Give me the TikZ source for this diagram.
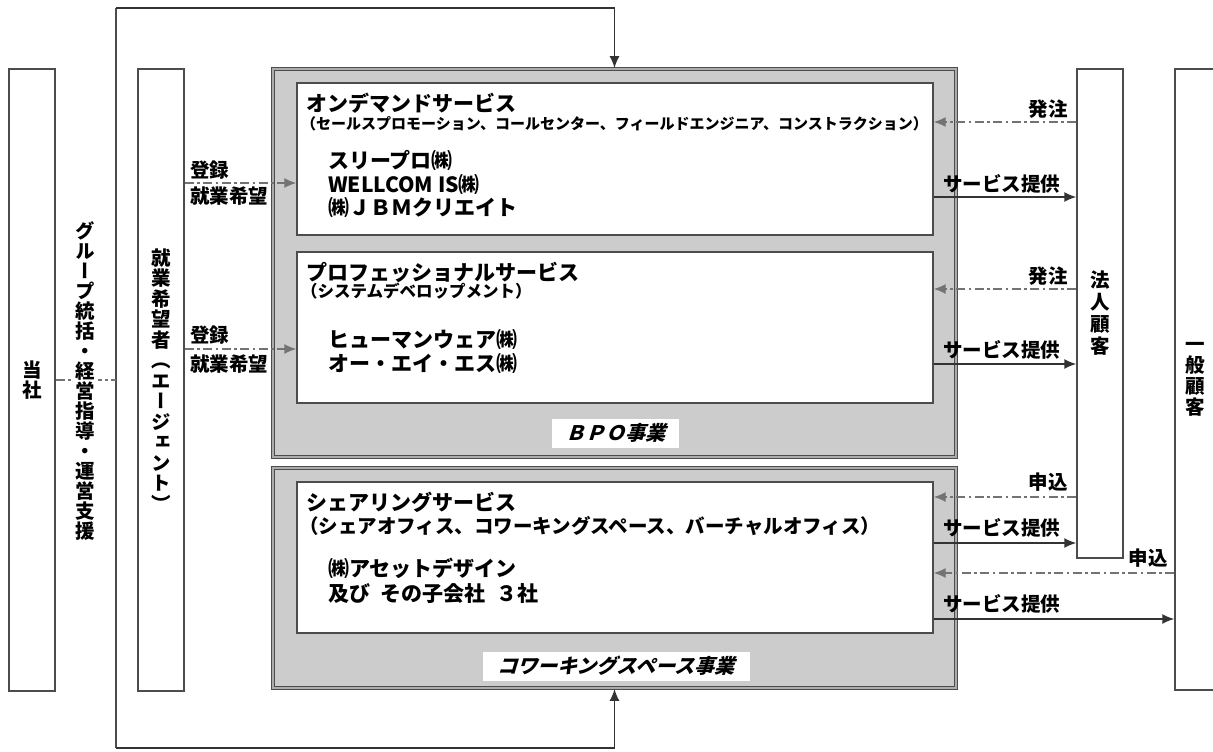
\documentclass[tikz,border=0pt]{standalone}
\usepackage{fontspec}
\setmainfont{Noto Sans CJK JP}
\newfontfamily\tatefont[RawFeature=+vert]{Noto Sans CJK JP}
\newfontfamily\slantfont[FakeSlant=0.3]{Noto Sans CJK JP}
\usetikzlibrary{arrows.meta,positioning}

\begin{document}
\begin{tikzpicture}[x=1pt,y=-1pt]
		\tikzstyle{Side}	= [rectangle, draw=black!70, line width=1.4pt, fill=white, inner sep=0pt, minimum width=46pt, align=center, font=\tatefont\bfseries\fontsize{19.5}{20.5}\selectfont]
		\tikzstyle{Upright}	= [align=center, inner sep=3pt, fill=white, font=\tatefont\bfseries\fontsize{19.5}{20}\selectfont]
		\tikzstyle{Division}	= [rectangle, draw=black!70, line width=1.7pt, double=gray!65, double distance=1.4pt, fill=gray!40, inner sep=0pt, minimum width=683pt]
		\tikzstyle{Service}	= [rectangle, draw=black!70, line width=1.4pt, fill=white, inner sep=0pt, minimum width=636pt]
		\tikzstyle{Tag}		= [fill=white, inner sep=0pt, minimum height=29pt, font=\slantfont\bfseries\fontsize{20}{21}\selectfont]
		\tikzstyle{Head}	= [anchor=west, inner sep=0pt, font=\bfseries\fontsize{21}{22}\selectfont]
		\tikzstyle{Firms}	= [anchor=west, align=left, inner sep=0pt, font=\bfseries\fontsize{21}{23.5}\selectfont]
		\tikzstyle{Label}	= [inner sep=0pt, font=\bfseries\fontsize{19.5}{20}\selectfont]
		\tikzstyle{Link}	= [draw=black!70, line width=1.4pt]
		\tikzstyle{Order}	= [draw=black!55, line width=1.4pt, dash pattern=on 9pt off 3.5pt on 2.5pt off 3.5pt, -{Latex[length=12pt,width=10pt]}]
		\tikzstyle{Serve}	= [draw=black!80, line width=1.6pt, -{Latex[length=12pt,width=10pt]}]

		\useasboundingbox (0,0) rectangle (1213,752);

		% outer columns
		\node (tosha) at (32,380) [Side, minimum height=622pt] {当\\社};
		\node (agent) at (161,380) [Side, minimum height=622pt] {就\\業\\希\\望\\者\\（\\エ\\ー\\ジ\\ェ\\ン\\ト\\）};
		\node (corp) at (1100,313.5) [Side, minimum height=489pt, font=\tatefont\bfseries\fontsize{19.5}{22}\selectfont] {法\\人\\顧\\客};
		\node (general) at (1195,379.5) [Side, minimum width=40pt, minimum height=621pt, font=\tatefont\bfseries\fontsize{19.5}{21}\selectfont] {一\\般\\顧\\客};

		% business divisions
		\node (bpo) at (614.5,263) [Division, minimum height=388pt] {};
		\node (cws) at (614.5,578) [Division, minimum height=220pt] {};
		\node (ondemand) at (615,159) [Service, minimum height=152pt] {};
		\node (pro) at (615,327.5) [Service, minimum height=151pt] {};
		\node (share) at (615,557.5) [Service, minimum height=151pt] {};
		\node (bpotag) at (615.5,433) [Tag, minimum width=127pt] {ＢＰＯ事業};
		\node (cwstag) at (616,666) [Tag, minimum width=267pt] {コワーキングスペース事業};

		\node (odtitle) at (306,103) [Head] {オンデマンドサービス};
		\node (odsub) at (301,124) [Head, font=\bfseries\fontsize{15}{16}\selectfont] {（セールスプロモーション、コールセンター、フィールドエンジニア、コンストラクション）};
		\node (odfirms) at (328,184) [Firms] {スリープロ㈱\\WELLCOM IS㈱\\㈱ＪＢＭクリエイト};

		\node (protitle) at (306,272) [Head] {プロフェッショナルサービス};
		\node (prosub) at (301,291) [Head, font=\bfseries\fontsize{16.5}{17}\selectfont] {（システムデベロップメント）};
		\node (profirms) at (328,351.5) [Firms] {ヒューマンウェア㈱\\オー・エイ・エス㈱};

		\node (sharetitle) at (306,502) [Head] {シェアリングサービス};
		\node (sharesub) at (299,526) [Head, font=\bfseries\fontsize{19.5}{21}\selectfont] {（シェアオフィス、コワーキングスペース、バーチャルオフィス）};
		\node (sharefirms) at (328,581) [Firms, font=\bfseries\fontsize{21}{25}\selectfont] {㈱アセットデザイン\\及び\enskip その子会社\enskip ３社};

		% group support loop
		\coordinate (loopT) at (116,8);
		\coordinate (loopB) at (116,748);
		\draw [-] (loopT) to (loopB) [Link];
		\draw [Serve] (loopT) -| (bpo.north);
		\draw [Serve] (loopB) -| (cws.south);
		\draw [Order, -] (tosha.east) to (tosha.east -| loopT);
		\node (support) at (85,381) [Upright] {グ\\ル\\ー\\プ\\統\\括\\・\\経\\営\\指\\導\\・\\運\\営\\支\\援};

		% registration
		\coordinate (k1) at (0,183);
		\coordinate (k2) at (0,349);
		\draw [Order] (agent.east |- k1) to (ondemand.west |- k1);
		\draw [Order] (agent.east |- k2) to (pro.west |- k2);
		\node (reg1) at (190,170) [Label, anchor=west] {登録};
		\node (hope1) at (190,196) [Label, anchor=west] {就業希望};
		\node (reg2) at (190,335) [Label, anchor=west] {登録};
		\node (hope2) at (190,364) [Label, anchor=west] {就業希望};

		% customers
		\coordinate (r1) at (0,122);
		\coordinate (r2) at (0,197);
		\coordinate (r3) at (0,289);
		\coordinate (r4) at (0,364);
		\coordinate (r5) at (0,497);
		\coordinate (r6) at (0,543);
		\coordinate (r7) at (0,573);
		\coordinate (r8) at (0,619);
		\draw [Order] (corp.west |- r1) to (ondemand.east |- r1);
		\draw [Serve] (ondemand.east |- r2) to (corp.west |- r2);
		\draw [Order] (corp.west |- r3) to (pro.east |- r3);
		\draw [Serve] (pro.east |- r4) to (corp.west |- r4);
		\draw [Order] (corp.west |- r5) to (share.east |- r5);
		\draw [Serve] (share.east |- r6) to (corp.west |- r6);
		\draw [Order] (general.west |- r7) to (share.east |- r7);
		\draw [Serve] (share.east |- r8) to (general.west |- r8);

		\node (order1) at (1068,109) [Label, anchor=east] {発注};
		\node (serve1) at (943,184) [Label, anchor=west] {サービス提供};
		\node (order2) at (1068,276) [Label, anchor=east] {発注};
		\node (serve2) at (943,350) [Label, anchor=west] {サービス提供};
		\node (apply1) at (1068,482) [Label, anchor=east] {申込};
		\node (serve3) at (943,528) [Label, anchor=west] {サービス提供};
		\node (apply2) at (1168,558) [Label, anchor=east] {申込};
		\node (serve4) at (943,604) [Label, anchor=west] {サービス提供};
	\end{tikzpicture}
\end{document}
